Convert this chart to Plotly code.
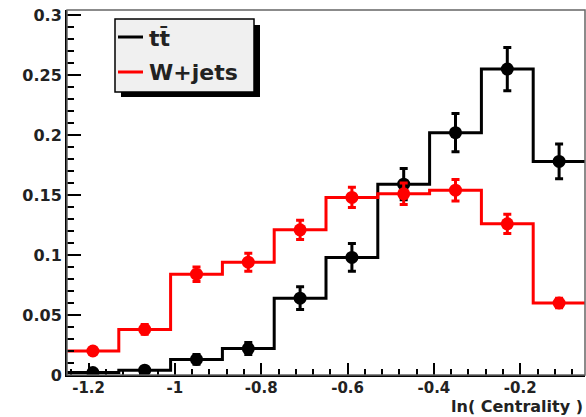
import plotly.graph_objects as go

# ---- data ----
bin_edges = [-1.25, -1.13, -1.01, -0.89, -0.77, -0.65, -0.53, -0.41, -0.29, -0.17, -0.05]
bin_centers = [-1.19, -1.07, -0.95, -0.83, -0.71, -0.59, -0.47, -0.35, -0.23, -0.11]
ttbar_vals = [0.002, 0.004, 0.013, 0.022, 0.064, 0.098, 0.159, 0.202, 0.255, 0.178]
ttbar_errs = [0.002, 0.002, 0.004, 0.005, 0.0095, 0.0115, 0.013, 0.016, 0.018, 0.0145]
wjets_vals = [0.020, 0.038, 0.084, 0.094, 0.121, 0.148, 0.151, 0.154, 0.126, 0.060]
wjets_errs = [0.003, 0.004, 0.006, 0.0075, 0.008, 0.0085, 0.009, 0.009, 0.008, 0.004]
x_ticks = [-1.2, -1.0, -0.8, -0.6, -0.4, -0.2]
x_tick_labels = ["-1.2", "-1", "-0.8", "-0.6", "-0.4", "-0.2"]
y_ticks = [0, 0.05, 0.1, 0.15, 0.2, 0.25, 0.3]
y_tick_labels = ["0", "0.05", "0.1", "0.15", "0.2", "0.25", "0.3"]
series_names = ["tt\u0304", "W+jets"]
series_colors = ["#000000", "#ff0000"]

W, H = 586, 417
ML, MR, MT, MB = 67, 1, 10, 42
PW, PH = W - ML - MR, H - MT - MB


def px(x):
    return (x - ML) / PW


def py(y):
    return (H - MB - y) / PH


FONT = "DejaVu Sans"
fig = go.Figure()

for vals, errs, color in [(ttbar_vals, ttbar_errs, series_colors[0]),
                          (wjets_vals, wjets_errs, series_colors[1])]:
    fig.add_trace(go.Scatter(
        x=bin_edges, y=vals + [vals[-1]], mode="lines",
        line=dict(color=color, width=3, shape="hv"),
        showlegend=False, hoverinfo="skip", cliponaxis=True))
    fig.add_trace(go.Scatter(
        x=bin_centers, y=vals, mode="markers",
        marker=dict(color=color, size=13, symbol="circle"),
        error_y=dict(type="data", array=errs, color=color, thickness=3, width=4),
        showlegend=False, cliponaxis=True))

shapes = []
# frame (top/right)
shapes.append(dict(type="rect", xref="paper", yref="paper", x0=0, y0=0, x1=1, y1=1,
                   line=dict(color="#666666", width=1.5), layer="above"))
# legend shadow and box
shapes.append(dict(type="rect", xref="paper", yref="paper",
                   x0=px(121), y0=py(97), x1=px(260), y1=py(25),
                   fillcolor="#000000", line=dict(width=0), layer="above"))
shapes.append(dict(type="rect", xref="paper", yref="paper",
                   x0=px(115), y0=py(92), x1=px(254), y1=py(19),
                   fillcolor="#f0f0f0", line=dict(color="#000000", width=1.5), layer="above"))
annotations = []
for i, (name, color) in enumerate(zip(series_names, series_colors)):
    yy = [37, 72][i]
    shapes.append(dict(type="line", xref="paper", yref="paper",
                       x0=px(118), x1=px(143), y0=py(yy), y1=py(yy),
                       line=dict(color=color, width=3), layer="above"))
    annotations.append(dict(xref="paper", yref="paper", x=px(147), y=py(yy + 1),
                            text=name, showarrow=False, xanchor="left", yanchor="middle",
                            font=dict(family=FONT, size=22, color="#222222", weight="bold")))

annotations.append(dict(xref="paper", yref="paper", x=1.0, y=py(406),
                        text="ln( Centrality )", showarrow=False,
                        xanchor="right", yanchor="middle",
                        font=dict(family=FONT, size=16, color="#222222", weight="bold")))

fig.update_layout(
    width=W, height=H,
    margin=dict(l=ML, r=MR, t=MT, b=MB, pad=0),
    paper_bgcolor="white", plot_bgcolor="white",
    shapes=shapes, annotations=annotations, showlegend=False,
    xaxis=dict(range=[-1.25, -0.05], tickvals=x_ticks, ticktext=x_tick_labels,
               ticks="inside", ticklen=12, tickwidth=1.5, tickcolor="#000",
               showline=True, linecolor="#000", linewidth=2, showgrid=False, zeroline=False,
               minor=dict(dtick=0.04, tick0=-1.2, ticks="inside", ticklen=6,
                          tickwidth=1.5, tickcolor="#000", showgrid=False),
               ticklabelstandoff=-2,
               tickfont=dict(family=FONT, size=15, color="#222222", weight="bold")),
    yaxis=dict(range=[0, 0.3042], tickvals=y_ticks, ticktext=y_tick_labels,
               ticks="inside", ticklen=14, tickwidth=1.5, tickcolor="#000",
               showline=True, linecolor="#000", linewidth=2, showgrid=False, zeroline=False,
               minor=dict(dtick=0.01, tick0=0, ticks="inside", ticklen=7,
                          tickwidth=1.5, tickcolor="#000", showgrid=False),
               tickfont=dict(family=FONT, size=16, color="#222222", weight="bold")),
)

fig.write_html("out.html")
